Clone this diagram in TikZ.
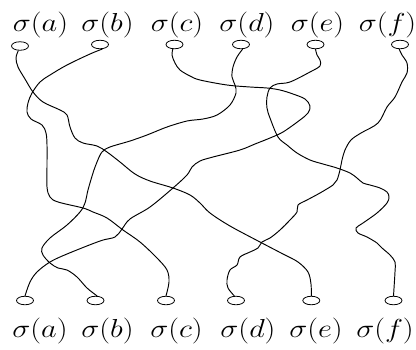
\RequirePackage{fix-cm}
\documentclass[tikz,border=0pt]{standalone}
\usetikzlibrary{shapes.geometric}
\begin{document}
\begin{tikzpicture}[x=1pt,y=-1pt,
  port/.style={draw, ellipse, minimum width=17pt, minimum height=8.5pt, inner sep=0pt, line width=0.8pt},
  lab/.style={anchor=base, inner sep=0pt, font=\fontsize{26}{31}\selectfont},
  strand/.style={line width=0.95pt, smooth, tension=0.55}]
\useasboundingbox (0,0) rectangle (416,349);
% top labels
\node[lab] (la) at (40.5,31) {\scalebox{1.17}[1]{$\sigma(a)$}};
\node[lab] (lb) at (107.5,31) {\scalebox{1.17}[1]{$\sigma(b)$}};
\node[lab] (lc) at (177,31) {\scalebox{1.17}[1]{$\sigma(c)$}};
\node[lab] (ld) at (247,31) {\scalebox{1.17}[1]{$\sigma(d)$}};
\node[lab] (le) at (317.5,31) {\scalebox{1.17}[1]{$\sigma(e)$}};
\node[lab] (lf) at (387.5,31) {\scalebox{1.17}[1]{$\sigma(f)$}};
% bottom labels
\node[lab] (ma) at (40,337) {\scalebox{1.17}[1]{$\sigma(a)$}};
\node[lab] (mb) at (107.5,337) {\scalebox{1.17}[1]{$\sigma(b)$}};
\node[lab] (mc) at (176.5,337) {\scalebox{1.17}[1]{$\sigma(c)$}};
\node[lab] (md) at (248,337) {\scalebox{1.17}[1]{$\sigma(d)$}};
\node[lab] (me) at (316,337) {\scalebox{1.17}[1]{$\sigma(e)$}};
\node[lab] (mf) at (385,337) {\scalebox{1.17}[1]{$\sigma(f)$}};
% top ports
\node[port] (ta) at (20,46) {};
\node[port] (tb) at (100,44.5) {};
\node[port] (tc) at (174.5,44.5) {};
\node[port] (td) at (241,44.5) {};
\node[port] (te) at (315.5,44.5) {};
\node[port] (tf) at (400,44.5) {};
% bottom ports
\node[port] (ba) at (25,300.5) {};
\node[port] (bb) at (95.5,300.5) {};
\node[port] (bc) at (166,300.5) {};
\node[port] (bd) at (236,300.5) {};
\node[port] (be) at (311.3,300.5) {};
\node[port] (bf) at (393.5,300.5) {};
% strands
\draw[strand] plot coordinates {(ta.250) (16,58) (18,67) (25,79) (33,92) (43,102) (60,110) (67,115) (70,127) (75,138) (83,143) (97,146) (107,152) (120,162) (135,174) (150,181) (173,188) (190,195) (200,203) (210,213) (230,226) (260,242) (283,254) (298,262) (308,272) (311,284) (be.north)};
\draw[strand] plot coordinates {(tb.300) (90,54) (67,65) (50,75) (40,82) (32,93) (28,103) (27,112) (31,119) (42,125) (46,133) (47,145) (47,165) (47,187) (50,197) (58,202) (83,208) (93,212) (107,218) (123,230) (140,242) (157,258) (167,270) (169,282) (bc.north)};
\draw[strand] plot coordinates {(tc.250) (172,55) (175,63) (180,70) (190,76) (200,80) (227,85) (250,87) (267,88) (280,90) (293,94) (305,99) (310,106) (308,113) (300,120) (283,132) (270,138) (255,144) (240,150) (213,157) (200,161) (192,167) (187,175) (173,188) (150,207) (130,219) (122,229) (115,237) (100,241) (67,254) (50,262) (37,272) (30,282) (ba.north)};
\draw[strand] plot coordinates {(td.290) (237,57) (233,67) (232,77) (235,85) (236,93) (230,105) (217,115) (203,119) (187,121) (167,127) (147,135) (130,141) (110,147) (102,152) (97,162) (93,173) (88,190) (85,203) (80,212) (67,225) (50,238) (42,248) (43,255) (50,263) (58,268) (67,270) (77,277) (87,288) (bb.70)};
\draw[strand] plot coordinates {(te.south) (317,55) (320,60) (320,66) (310,72) (290,82) (277,84) (270,88) (267,97) (267,108) (270,118) (278,137) (287,145) (297,153) (310,160) (323,164) (337,168) (350,173) (357,178) (363,183) (370,185) (380,188) (387,192) (389,197) (387,203) (377,213) (363,223) (356,228) (358,233) (367,237) (377,243) (382,248) (390,255) (395,262) (395,272) (bf.north)};
\draw[strand] plot coordinates {(tf.260) (402,55) (407,63) (407,73) (402,82) (395,97) (387,107) (378,123) (361,133) (351,140) (345,150) (342,160) (340,170) (337,180) (333,185) (320,193) (307,200) (298,205) (297,212) (290,220) (280,230) (270,238) (262,242) (258,248) (250,252) (240,257) (237,265) (230,270) (227,280) (228,288) (bd.110)};
\end{tikzpicture}
\end{document}
